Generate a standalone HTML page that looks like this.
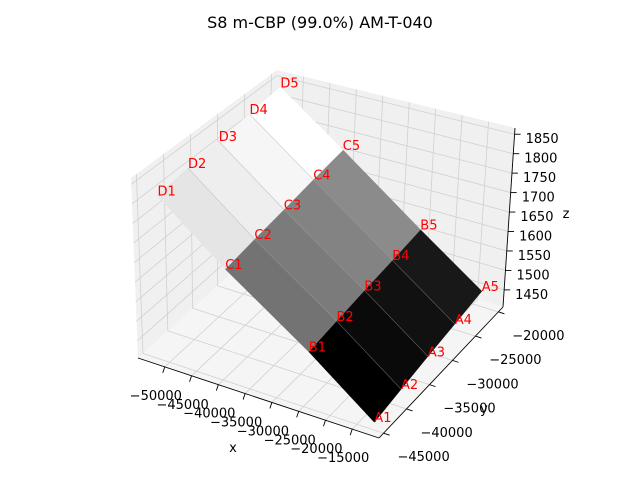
<!DOCTYPE html>
<html><head><meta charset="utf-8"><style>
html,body{margin:0;padding:0;background:#fff;}
svg{display:block;font-family:"DejaVu Sans","Liberation Sans",sans-serif;}
</style></head><body>
<svg id="chart" width="640" height="480" viewBox="0 0 640 480">
<text x="320" y="28" text-anchor="middle" font-size="16" fill="#000">S8 m-CBP (99.0%) AM-T-040</text>
<g id="panes"></g>
<g id="grid"></g>
<g id="axes"></g>
<g id="surf"></g>
<g id="labels"></g>
</svg>
<script>
// data
const rowNames = ["A","B","C","D"];
const rowX = [-12600, -24900, -40200, -52300];
const colY = [-44000, -38250, -32500, -26750, -21000];
const zGrid = [
  [1410, 1423, 1436, 1448, 1461],
  [1533, 1543, 1553, 1562, 1572],
  [1676, 1688, 1700, 1713, 1725],
  [1812, 1822, 1831, 1841, 1850]
];
const faceGray = [
  [0, 10, 17, 24],
  [115, 123, 131, 139],
  [229, 238, 246, 255]
];
const xTicks = [-50000,-45000,-40000,-35000,-30000,-25000,-20000,-15000];
const yTicks = [-45000,-40000,-35000,-30000,-25000,-20000];
const zTicks = [1450,1500,1550,1600,1650,1700,1750,1800,1850];

const NS="http://www.w3.org/2000/svg";
const XL=[-55000,-10000], YL=[-46000,-19000], ZL=[1406,1866];
const C={
 "000":[138,358],"100":[379,438],"110":[503,307],"010":[272,236],
 "001":[131,178],"101":[382,253],"111":[515,128],"011":[277,70]};
function P(x,y,z){
  const u=(x-XL[0])/(XL[1]-XL[0]), v=(y-YL[0])/(YL[1]-YL[0]), w=(z-ZL[0])/(ZL[1]-ZL[0]);
  let sx=0,sy=0;
  for(const k in C){
    const a=+k[0],b=+k[1],c=+k[2];
    const f=(a?u:1-u)*(b?v:1-v)*(c?w:1-w);
    sx+=f*C[k][0]; sy+=f*C[k][1];
  }
  return [sx,sy];
}
function mk(tag,attrs,parent){const e=document.createElementNS(NS,tag);for(const k in attrs)e.setAttribute(k,attrs[k]);parent.appendChild(e);return e;}
function poly(pts){return pts.map(p=>p[0].toFixed(1)+","+p[1].toFixed(1)).join(" ");}

const panes=document.getElementById('panes');
[[[XL[0],YL[0],ZL[0]],[XL[1],YL[0],ZL[0]],[XL[1],YL[1],ZL[0]],[XL[0],YL[1],ZL[0]]],
 [[XL[0],YL[0],ZL[0]],[XL[0],YL[1],ZL[0]],[XL[0],YL[1],ZL[1]],[XL[0],YL[0],ZL[1]]],
 [[XL[0],YL[1],ZL[0]],[XL[1],YL[1],ZL[0]],[XL[1],YL[1],ZL[1]],[XL[0],YL[1],ZL[1]]]
].forEach((q,i)=>{
  const e=mk('polygon',{points:poly(q.map(p=>P(...p))),fill:i==0?"#f5f5f5":"#f0f0f0",stroke:"none"},panes);
  
  
});

const grid=document.getElementById('grid');
function gl(a,b){const e=mk('line',{x1:a[0],y1:a[1],x2:b[0],y2:b[1],stroke:"#d0d0d0","stroke-width":0.8},grid);
  
  }
xTicks.forEach(x=>{gl(P(x,YL[0],ZL[0]),P(x,YL[1],ZL[0]));gl(P(x,YL[1],ZL[0]),P(x,YL[1],ZL[1]));});
yTicks.forEach(y=>{gl(P(XL[0],y,ZL[0]),P(XL[1],y,ZL[0]));gl(P(XL[0],y,ZL[0]),P(XL[0],y,ZL[1]));});
zTicks.forEach(z=>{gl(P(XL[0],YL[0],z),P(XL[0],YL[1],z));gl(P(XL[0],YL[1],z),P(XL[1],YL[1],z));});

const axes=document.getElementById('axes');
function al(a,b,name){const e=mk('line',{x1:a[0],y1:a[1],x2:b[0],y2:b[1],stroke:"#000","stroke-width":0.9},axes);
  
  }
function tx(p,s,name,anchor){const e=mk('text',{x:p[0].toFixed(1),y:p[1].toFixed(1),"font-size":13,"text-anchor":anchor||"middle",fill:"#000"},axes);e.textContent=s;
  
  }
function fmt(v){return v<0?"\u2212"+(-v):""+v;}
al(P(XL[0],YL[0],ZL[0]),P(XL[1],YL[0],ZL[0]),'x-axis-line');
al(P(XL[1],YL[0],ZL[0]),P(XL[1],YL[1],ZL[0]),'y-axis-line');
al(P(XL[1],YL[1],ZL[0]),P(XL[1],YL[1],ZL[1]),'z-axis-line');
xTicks.forEach(x=>{const a=P(x,YL[0],ZL[0]);al(a,[a[0]-2,a[1]+6],'x-tick');tx([a[0]-9,a[1]+33],fmt(x),'x-tick-label');});
yTicks.forEach(y=>{const a=P(XL[1],y,ZL[0]);al(a,[a[0]+6,a[1]+2],'y-tick');tx([a[0]+40,a[1]+28],fmt(y),'y-tick-label');});
zTicks.forEach(z=>{const a=P(XL[1],YL[1],z);al(a,[a[0]+6,a[1]],'z-tick');tx([a[0]+11,a[1]+9],fmt(z),'z-tick-label','start');});
tx([233,452],"x",'x-axis-title');
tx([484,413],"y",'y-axis-title');
tx([566,218],"z",'z-axis-title');

const surf=document.getElementById('surf');
for(let r=0;r<rowX.length-1;r++){
  for(let c=0;c<colY.length-1;c++){
    const q=[P(rowX[r],colY[c],zGrid[r][c]),P(rowX[r],colY[c+1],zGrid[r][c+1]),
             P(rowX[r+1],colY[c+1],zGrid[r+1][c+1]),P(rowX[r+1],colY[c],zGrid[r+1][c])];
    const g=faceGray[r][c];
    const col=`rgb(${g},${g},${g})`;
    const e=mk('polygon',{points:poly(q),fill:col,stroke:col,"stroke-width":0.6,"stroke-linejoin":"round"},surf);
    
    
  }
}
for(let r=0;r<rowX.length-1;r++){
  for(let c=1;c<colY.length-1;c++){
    const a=P(rowX[r],colY[c],zGrid[r][c]), b=P(rowX[r+1],colY[c],zGrid[r+1][c]);
    const e=mk('line',{x1:a[0],y1:a[1],x2:b[0],y2:b[1],stroke:"rgba(160,160,160,0.6)","stroke-width":0.6},surf);
    
    
  }
}
const labels=document.getElementById('labels');
for(let r=0;r<rowX.length;r++){
  for(let c=0;c<colY.length;c++){
    const p=P(rowX[r],colY[c],zGrid[r][c]);
    const e=mk('text',{x:p[0].toFixed(1),y:p[1].toFixed(1),"font-size":13,fill:"#ff0000"},labels);
    e.textContent=rowNames[r]+(c+1);
    
    
  }
}
</script>
</body></html>
